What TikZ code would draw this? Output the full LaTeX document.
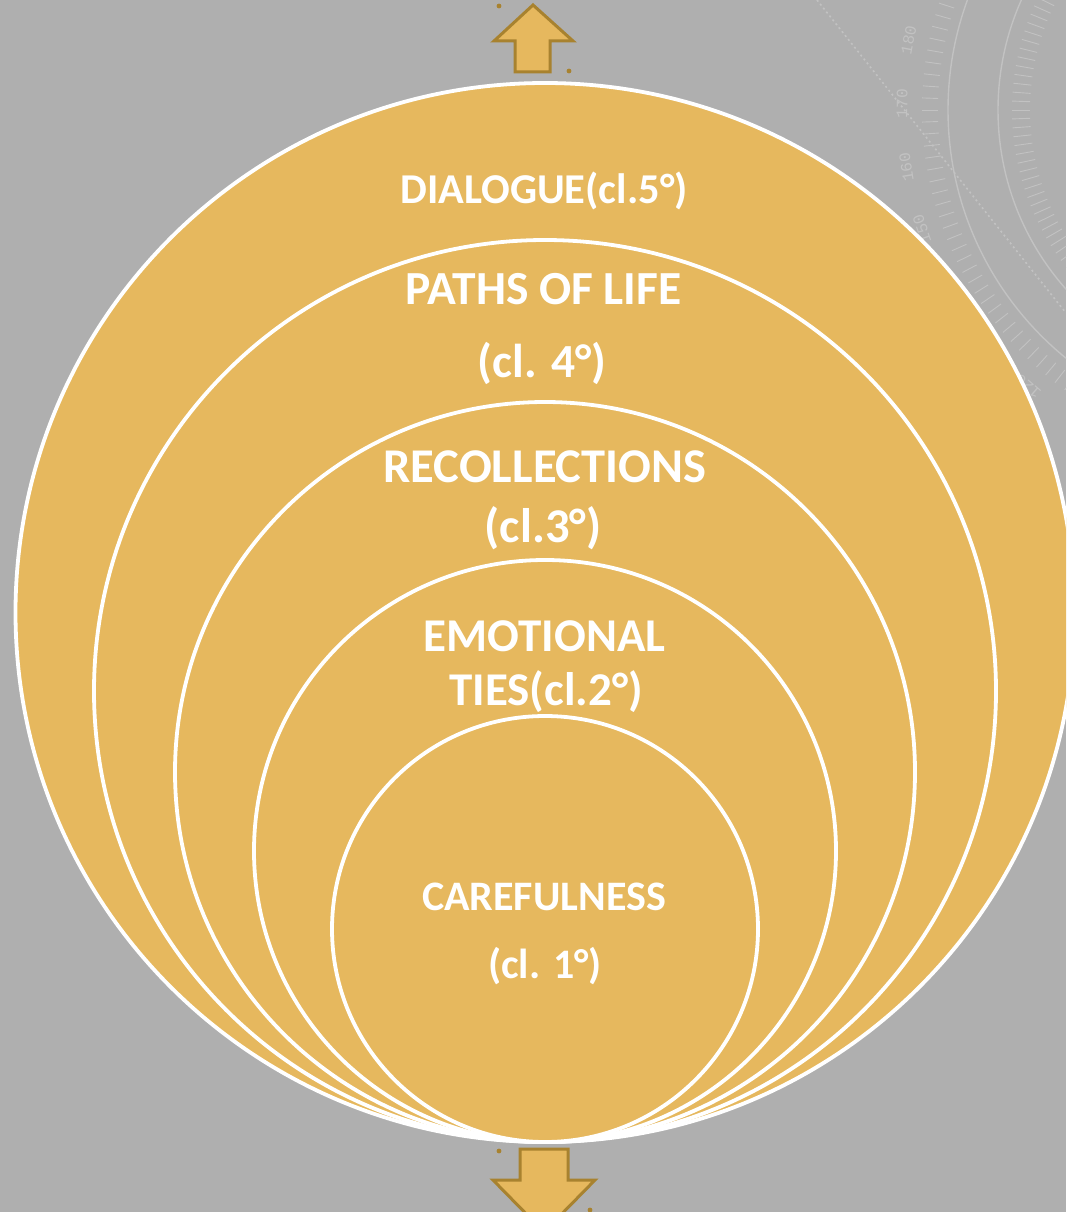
\documentclass[tikz,border=0pt]{standalone}
\usepackage{fontspec}
\usetikzlibrary{calc}
\setmainfont{Carlito}
\newfontfamily\decofont{Liberation Mono}
\definecolor{bggray}{HTML}{AFAFAF}
\definecolor{gold}{HTML}{E6B85E}
\definecolor{darkgold}{HTML}{A8822F}
\definecolor{faint}{HTML}{C2C2C2}
\tikzset{
  ring/.style={fill=gold, draw=white, line width=3.8pt},
  ringtext/.style={anchor=base, text=white, inner sep=0pt},
  arrowshape/.style={fill=gold, draw=darkgold, line width=3pt, line join=miter},
  handle/.style={fill=darkgold, draw=none},
  deco/.style={draw=faint, line width=1.4pt},
  decotick/.style={draw=faint, line width=0.9pt},
  deconum/.style={text=faint, font=\decofont\fontsize{16}{16}\selectfont, inner sep=0pt}
}
\begin{document}
\begin{tikzpicture}[x=1pt,y=-1pt]
\useasboundingbox (0,0) rectangle (1066,1212);
\clip (0,0) rectangle (1066,1212);
\fill[bggray] (0,0) rectangle (1066,1212);
% background protractor decoration
\coordinate (pc) at (1268,110);
\draw[deco] (pc) circle [radius=320pt];
\draw[deco] (pc) circle [radius=270pt];
\foreach \a in {90,92,...,260} {
  \draw[decotick] ($(pc)+(\a:330pt)$) -- ($(pc)+(\a:346pt)$);
  \draw[decotick] ($(pc)+(\a:238pt)$) -- ($(pc)+(\a:256pt)$);
}
\coordinate (dl1) at (817,0);
\coordinate (dl2) at (1066,313);
\draw[draw=faint, line width=1.6pt, dash pattern=on 2pt off 3pt] (dl1) -- (dl2);
\foreach \v in {180,170,160,150,140,130,120} {
  \pgfmathsetmacro{\ang}{349-\v}
  \node[deconum, rotate=\ang-90] at ($(pc)+(\ang:366pt)$) {\v};
}
% nested circles
\node[ring, circle, minimum size=1059pt, inner sep=0pt] (c5) at (545,612.5) {};
\node[ring, circle, minimum size=902pt, inner sep=0pt] (c4) at (545,691) {};
\node[ring, circle, minimum size=740pt, inner sep=0pt] (c3) at (545,772) {};
\node[ring, circle, minimum size=582pt, inner sep=0pt] (c2) at (545,851) {};
\node[ring, circle, minimum size=426pt, inner sep=0pt] (c1) at (545,929) {};
% labels
\node[ringtext, font=\bfseries\fontsize{42.5}{42.5}\selectfont] (t5) at (544,203) {DIALOGUE(cl.5°)};
\node[ringtext, font=\bfseries\fontsize{47.5}{47.5}\selectfont] (t4a) at (543.5,304) {PATHS OF LIFE};
\node[ringtext, font=\bfseries\fontsize{47.5}{47.5}\selectfont] (t4b) at (542,377) {(cl. 4°)};
\node[ringtext, font=\bfseries\fontsize{48.5}{48.5}\selectfont] (t3a) at (545,482) {RECOLLECTIONS};
\node[ringtext, font=\bfseries\fontsize{48.5}{48.5}\selectfont] (t3b) at (543,542) {(cl.3°)};
\node[ringtext, font=\bfseries\fontsize{47}{47}\selectfont] (t2a) at (544.5,651) {EMOTIONAL};
\node[ringtext, font=\bfseries\fontsize{47}{47}\selectfont] (t2b) at (546,705) {TIES(cl.2°)};
\node[ringtext, font=\bfseries\fontsize{42}{42}\selectfont] (t1a) at (544,910) {CAREFULNESS};
\node[ringtext, font=\bfseries\fontsize{42}{42}\selectfont] (t1b) at (545,978) {(cl. 1°)};
% arrows
\draw[arrowshape] (533,5) -- (573,41) -- (550,41) -- (550,72) -- (515,72) -- (515,41) -- (494,41) -- cycle;
\draw[arrowshape] (520,1149) -- (568,1149) -- (568,1180) -- (595,1180) -- (544,1232) -- (493,1180) -- (520,1180) -- cycle;
\fill[handle] (499,6) circle [radius=2.4pt];
\fill[handle] (569,71) circle [radius=2.4pt];
\fill[handle] (499,1151) circle [radius=2.4pt];
\fill[handle] (590,1210) circle [radius=2.4pt];
\end{tikzpicture}
\end{document}
